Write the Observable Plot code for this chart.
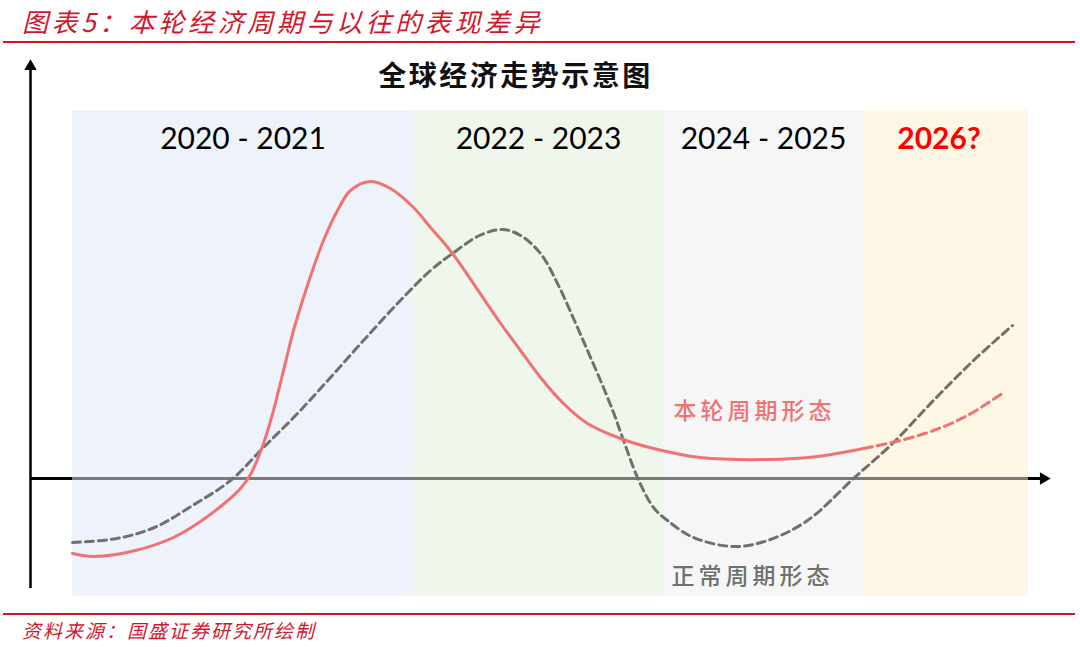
<!DOCTYPE html>
<html>
<head>
<meta charset="utf-8">
<script src="https://cdn.jsdelivr.net/npm/d3@7"></script>
<script src="https://cdn.jsdelivr.net/npm/@observablehq/plot@0.6"></script>
<style>
  html, body { margin: 0; padding: 0; background: #ffffff; }
  body { width: 1080px; height: 647px; position: relative; overflow: hidden; font-family: "Noto Sans CJK SC", sans-serif; }
  #header { position: absolute; left: 22px; top: 2px; font-size: 26px; letter-spacing: 3.6px; font-style: italic; color: #d0182c; white-space: nowrap; }
  .redline { position: absolute; left: 3px; width: 1072px; height: 2px; background: #d7141f; }
  #chart { position: absolute; left: 0; top: 45px; }
  #caption { position: absolute; left: 22px; top: 616px; font-size: 19px; letter-spacing: 2px; font-style: italic; color: #d0182c; white-space: nowrap; }
</style>
</head>
<body>
<div id="header">图表5：本轮经济周期与以往的表现差异</div>
<div class="redline" style="top:41px"></div>
<div id="chart"></div>
<div class="redline" style="top:613px"></div>
<div id="caption">资料来源：国盛证券研究所绘制</div>
<script>
// ---- data (schematic units: x = time position, y = growth index, 0 = trend) ----
const bandNames  = ["2020 - 2021", "2022 - 2023", "2024 - 2025", "2026?"];
const bandStart  = [72, 413, 663, 863];
const bandEnd    = [413, 663, 863, 1028];
const bandColors = ["#EEF3FB", "#EFF6EB", "#F6F6F6", "#FFF7E6"];
const highlightBand = "2026?";

// 本轮周期形态 (current cycle), solid part
const currentX = [72, 93, 135, 173, 200, 225, 240, 250, 263, 273, 283, 293, 303, 313, 323, 337, 350, 370, 390, 413, 430, 452, 498, 520, 540, 563, 587, 620, 653, 700, 767, 817, 863];
const currentY = [-75, -78, -72, -59, -43, -24, -10, 4, 35, 68, 108, 148, 181, 211, 238, 268, 288, 297, 290, 271, 251, 225, 158, 128, 101, 75, 55, 40, 30, 21, 19, 22, 30];
// 本轮周期形态, 2026 projection (dashed)
const forecastX = [863, 900, 933, 967, 1003];
const forecastY = [30, 38, 48, 63, 86];

// 正常周期形态 (normal cycle)
const normalX = [72, 116, 154, 192, 230, 263, 297, 330, 363, 397, 430, 452, 479, 502, 520, 540, 557, 573, 587, 600, 613, 622, 637, 653, 667, 693, 733, 767, 807, 853, 893, 933, 973, 1012];
const normalY = [-64, -60, -49, -27, -2, 31, 65, 101, 138, 175, 208, 225, 243, 249, 243, 225, 195, 160, 128, 98, 66, 41, 1, -29, -42, -59, -68, -62, -42, 0, 36, 78, 118, 153];

const seriesLabels = ["本轮周期形态", "正常周期形态"];
const seriesLabelX = [754, 752];
const seriesLabelY = [67, -98];
const seriesColors = ["#F07272", "#6F716C"];

const chartTitle = "全球经济走势示意图";

// ---- build tables ----
const bands = bandNames.map((n, i) => ({
  name: n, x1: bandStart[i], x2: bandEnd[i], fill: bandColors[i],
  cx: (bandStart[i] + bandEnd[i]) / 2
}));
const plainBands = bands.filter((b) => b.name !== highlightBand);
const hotBands = bands.filter((b) => b.name === highlightBand);
const current = currentX.map((x, i) => ({x, y: currentY[i]}));
const forecast = forecastX.map((x, i) => ({x, y: forecastY[i]}));
const normal = normalX.map((x, i) => ({x, y: normalY[i]}));
const seriesText = seriesLabels.map((t, i) => ({t, x: seriesLabelX[i], y: seriesLabelY[i], c: seriesColors[i]}));

const axisLeft = 30, axisRight = 1043, axisBottom = -110, axisTop = 412;
const bandTop = 368, bandBottom = -118;

const plot = Plot.plot({
  width: 1080,
  height: 562,
  margin: 0,
  style: { background: "transparent", overflow: "visible" },
  x: { domain: [0, 1080], axis: null },
  y: { domain: [-129, 433], axis: null },
  marks: [
    Plot.rect(bands, { x1: "x1", x2: "x2", y1: bandBottom, y2: bandTop, fill: "fill", inset: 0 }),
    // axes
    Plot.ruleY([0], { x1: axisLeft, x2: axisRight, stroke: "#000", strokeWidth: 3 }),
    Plot.ruleY([0], { x1: bandStart[0], x2: bandEnd[bandEnd.length - 1], stroke: "#7B7C77", strokeWidth: 3 }),
    Plot.ruleX([axisLeft], { y1: axisBottom, y2: axisTop, stroke: "#000", strokeWidth: 2.5 }),
    Plot.dot([0], { x: axisLeft, y: axisTop, symbol: "triangle", r: 4.6, fill: "#000", stroke: "none" }),
    Plot.dot([0], { x: axisRight, y: 0, symbol: "triangle", r: 4.6, fill: "#000", stroke: "none", rotate: 90 }),
    // curves
    Plot.line(normal, { x: "x", y: "y", curve: "catmull-rom", stroke: seriesColors[1], strokeWidth: 3, strokeDasharray: "8,5" }),
    Plot.line(current, { x: "x", y: "y", curve: "catmull-rom", stroke: seriesColors[0], strokeWidth: 3 }),
    Plot.line(forecast, { x: "x", y: "y", curve: "catmull-rom", stroke: seriesColors[0], strokeWidth: 3, strokeDasharray: "9,5" }),
    // band labels
    Plot.text(plainBands, { x: "cx", y: 339, text: "name", fill: "#000", fontSize: 30, fontFamily: "Lato, 'Open Sans', sans-serif" }),
    Plot.text(hotBands, { x: "cx", dx: -7, y: 339, text: "name", fill: "#FF0000", fontWeight: "bold", fontSize: 30, fontFamily: "Lato, 'Open Sans', sans-serif" }),
    // title
    Plot.text([chartTitle], { x: 515, y: 401, text: (d) => d, fontSize: 28, fontWeight: 700, fill: "#111", fontFamily: "'Noto Sans CJK SC', sans-serif" }),
    // series labels
    Plot.text(seriesText, { x: "x", y: "y", text: "t", fill: "c", fontSize: 23, fontWeight: 500, fontFamily: "'Noto Sans CJK SC', sans-serif" })
  ]
});
d3.select(plot).selectAll("text").each(function () {
  const t = this.textContent;
  if (t === chartTitle) this.style.letterSpacing = "2.5px";
  if (seriesLabels.includes(t)) this.style.letterSpacing = "4px";
});
document.getElementById("chart").appendChild(plot);
</script>
</body>
</html>
